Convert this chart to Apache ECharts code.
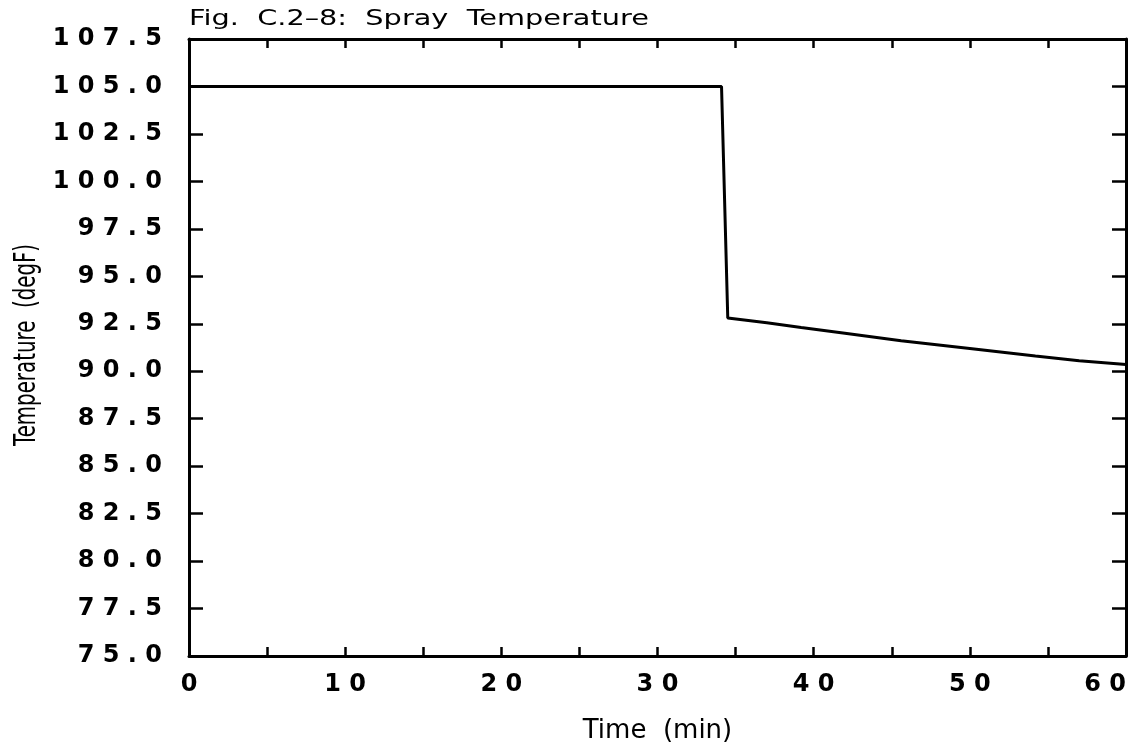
<!DOCTYPE html>
<html>
<head>
<meta charset="utf-8">
<script src="https://cdn.jsdelivr.net/npm/echarts@6/dist/echarts.min.js"></script>
<style>html,body{margin:0;padding:0;background:#fff}#c{width:1138px;height:746px}</style>
</head>
<body>
<div id="c"></div>
<script>
const timeMin = [0, 34.1, 34.5, 37, 39.2, 42, 45.6, 50, 54.2, 57, 60];
const sprayTempF = [105.0, 105.0, 92.8, 92.55, 92.3, 92.0, 91.6, 91.2, 90.8, 90.55, 90.35];
const titleText = 'Fig.  C.2\u20138:  Spray  Temperature';
const xTitle = 'Time  (min)';
const yTitle = 'Temperature  (degF)';

const spaced = s => s.split('').join(' ');
const chart = echarts.init(document.getElementById('c'));
const lineCommon = { show: true, onZero: false, lineStyle: { color: '#000', width: 3 } };
const tickStyle = { color: '#000', width: 2.5 };
const labelFont = { color: '#000', fontFamily: 'DejaVu Sans', fontWeight: 'bold', fontSize: 24 };
chart.setOption({
  animation: false,
  backgroundColor: '#fff',
  grid: { left: 189, right: 12, top: 39, bottom: 90, containLabel: false, outerBoundsMode: 'none' },
  xAxis: [{
    type: 'value', min: 0, max: 60, interval: 5, position: 'bottom',
    axisLine: lineCommon, splitLine: { show: false },
    axisTick: { show: true, inside: true, length: 9, lineStyle: tickStyle },
    axisLabel: Object.assign({ margin: 17, alignMaxLabel: 'right', formatter: v => (v % 10 === 0 ? spaced(String(v)) : '') }, labelFont),
    name: xTitle, nameLocation: 'middle', nameGap: 62,
    nameTextStyle: { fontFamily: 'DejaVu Sans', fontSize: 26, color: '#000' }
  }, {
    type: 'value', min: 0, max: 60, interval: 5, position: 'top',
    axisLine: lineCommon, splitLine: { show: false },
    axisTick: { show: true, inside: true, length: 9, lineStyle: tickStyle },
    axisLabel: { show: false }
  }],
  yAxis: [{
    type: 'value', min: 75, max: 107.5, interval: 2.5, position: 'left',
    axisLine: lineCommon, splitLine: { show: false },
    axisTick: { show: true, inside: true, length: 14, lineStyle: tickStyle },
    axisLabel: Object.assign({ margin: 27, formatter: v => spaced(v.toFixed(1)) }, labelFont)
  }, {
    type: 'value', min: 75, max: 107.5, interval: 2.5, position: 'right',
    axisLine: lineCommon, splitLine: { show: false },
    axisTick: { show: true, inside: true, length: 14, lineStyle: tickStyle },
    axisLabel: { show: false }
  }],
  graphic: [{
    type: 'text', x: 189, y: 20, scaleX: 1.37,
    style: { text: titleText, fontFamily: 'DejaVu Sans', fontSize: 21, fill: '#000', align: 'left', verticalAlign: 'middle' }
  }, {
    type: 'text', x: 27, y: 345, rotation: Math.PI / 2, scaleX: 0.66,
    style: { text: yTitle, fontFamily: 'DejaVu Sans', fontSize: 30, fill: '#000', align: 'center', verticalAlign: 'middle' }
  }],
  series: [{
    type: 'line', xAxisIndex: 0, yAxisIndex: 0,
    data: timeMin.map((t, i) => [t, sprayTempF[i]]),
    showSymbol: false, symbol: 'none',
    lineStyle: { color: '#000', width: 3 }
  }]
});
</script>
</body>
</html>
